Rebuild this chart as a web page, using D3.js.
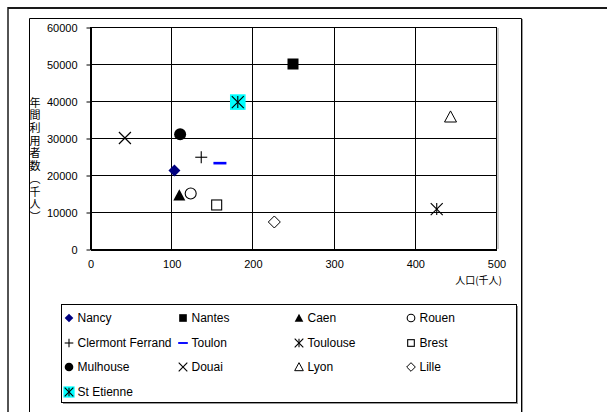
<!DOCTYPE html>
<html>
<head>
<meta charset="utf-8">
<script src="https://cdn.jsdelivr.net/npm/d3@7"></script>
<style>
  html, body { margin: 0; padding: 0; background: #fff; }
  svg { display: block; }
  text { font-family: "Liberation Sans", Arial, "Noto Sans CJK JP", sans-serif; fill: #000; }
  .jp { font-family: "Noto Sans CJK JP", sans-serif; }
  .vertical { writing-mode: vertical-rl; text-orientation: upright; }
</style>
</head>
<body>
<svg id="chart" width="607" height="412"></svg>
<script>
// Cities, their population (thousands) and annual ridership (thousands)
const cities     = ["Nancy", "Nantes", "Caen", "Rouen", "Clermont Ferrand", "Toulon", "Toulouse", "Brest", "Mulhouse", "Douai", "Lyon", "Lille", "St Etienne"];
const population = [104, 250, 110, 124, 137, 160, 427, 156, 111, 43, 444, 227, 182];
const riders     = [21200, 50000, 14500, 15000, 24800, 23200, 10800, 11900, 31000, 30000, 35700, 7300, 39700];

// Marker style for each city, in the same order
const markers = ["diamondFill", "squareFill", "triangleFill", "circleOpen", "plus", "dash", "asterisk", "squareOpen", "circleFill", "times", "triangleOpen", "diamondOpen", "asteriskCyan"];

const xTicks = [0, 100, 200, 300, 400, 500];
const yTicks = [0, 10000, 20000, 30000, 40000, 50000, 60000];
const yTitle = "年間利用者数（千人）";
const xTitle = "人口(千人)";

const svg = d3.select("#chart");

// Outer frames
svg.append("line").attr("x1", 8).attr("x2", 607).attr("y1", 8).attr("y2", 8)
  .attr("stroke", "#1a1a1a").attr("stroke-width", 2);
svg.append("line").attr("x1", 8).attr("x2", 8).attr("y1", 7).attr("y2", 412)
  .attr("stroke", "#1a1a1a").attr("stroke-width", 1.5);

// Chart area border (shadow on right)
svg.append("line").attr("x1", 522.5).attr("x2", 522.5).attr("y1", 19).attr("y2", 412)
  .attr("stroke", "#999").attr("stroke-width", 1);
svg.append("path").attr("d", "M29.5,412 V18.5 H521.5 V412")
  .attr("fill", "none").attr("stroke", "#000").attr("stroke-width", 1);

const plot = { left: 90, right: 496, top: 27, bottom: 249 };
const x = d3.scaleLinear().domain([0, 500]).range([plot.left, plot.right]);
const y = d3.scaleLinear().domain([0, 60000]).range([plot.bottom, plot.top]);

// Gridlines
const grid = svg.append("g").attr("stroke", "#000").attr("stroke-width", 1);
grid.selectAll("line.h").data(yTicks.slice(1)).join("line").attr("class", "h")
  .attr("x1", plot.left).attr("x2", plot.right)
  .attr("y1", d => Math.round(y(d)) + 0.5).attr("y2", d => Math.round(y(d)) + 0.5);
grid.selectAll("line.v").data(xTicks.slice(1)).join("line").attr("class", "v")
  .attr("y1", plot.top).attr("y2", plot.bottom)
  .attr("x1", d => Math.round(x(d)) + 0.5).attr("x2", d => Math.round(x(d)) + 0.5);
// Plot area shadow on the right
svg.append("line").attr("x1", plot.right + 2).attr("x2", plot.right + 2)
  .attr("y1", plot.top + 1).attr("y2", plot.bottom).attr("stroke", "#999");

// Axes
const yAxis = d3.axisLeft(y).tickValues(yTicks).tickFormat(d3.format("d"))
  .tickSize(4).tickSizeOuter(0).tickPadding(9);
const xAxis = d3.axisBottom(x).tickValues(xTicks).tickFormat(d3.format("d"))
  .tickSize(0).tickSizeOuter(0).tickPadding(11);
const gy = svg.append("g").attr("transform", `translate(${plot.left + 0.5},0.5)`).call(yAxis);
const gx = svg.append("g").attr("transform", `translate(0.5,${plot.bottom + 0.5})`).call(xAxis);
[gy, gx].forEach(g => {
  g.select(".domain").attr("stroke", "#000").attr("stroke-width", 2);
  g.selectAll(".tick line").attr("stroke", "#000");
  g.selectAll(".tick text").attr("font-size", 11).attr("font-family", "Liberation Sans, Arial, sans-serif").attr("fill", "#000");
});

// Axis titles
svg.append("text").attr("class", "jp vertical").attr("x", 35).attr("y", 97)
  .attr("font-size", 11).attr("letter-spacing", 1.7).text(yTitle);
svg.append("text").attr("class", "jp").attr("x", 502).attr("y", 284)
  .attr("text-anchor", "end").attr("font-size", 10).text(xTitle);

// Marker drawing
function drawMarker(g, type, k) {
  const s = 6 * k;
  const line = (x1, y1, x2, y2, c, w) => g.append("line").attr("x1", x1).attr("y1", y1).attr("x2", x2).attr("y2", y2)
    .attr("stroke", c || "#000").attr("stroke-width", w || 1.1);
  switch (type) {
    case "diamondFill":
      g.append("path").attr("d", `M0,${-s}L${s},0L0,${s}L${-s},0Z`).attr("fill", "#000080"); break;
    case "diamondOpen":
      g.append("path").attr("d", `M0,${-s}L${s},0L0,${s}L${-s},0Z`).attr("fill", "#fff").attr("stroke", "#000").attr("stroke-width", 1); break;
    case "squareFill":
      g.append("rect").attr("x", -s + 0.5).attr("y", -s + 0.5).attr("width", 2 * s - 1).attr("height", 2 * s - 1).attr("fill", "#000"); break;
    case "squareOpen":
      g.append("rect").attr("x", -s + 1).attr("y", -s + 1).attr("width", 2 * s - 2).attr("height", 2 * s - 2).attr("fill", "#fff").attr("stroke", "#000").attr("stroke-width", 1.1); break;
    case "triangleFill":
      g.append("path").attr("d", `M0,${-s}L${s},${s * 0.85}L${-s},${s * 0.85}Z`).attr("fill", "#000"); break;
    case "triangleOpen":
      g.append("path").attr("d", `M0,${-s}L${s},${s * 0.85}L${-s},${s * 0.85}Z`).attr("fill", "#fff").attr("stroke", "#000").attr("stroke-width", 1); break;
    case "circleFill":
      g.append("circle").attr("r", s).attr("fill", "#000"); break;
    case "circleOpen":
      g.append("circle").attr("r", s - 0.5).attr("fill", "#fff").attr("stroke", "#000").attr("stroke-width", 1.1); break;
    case "plus":
      line(-s, 0, s, 0); line(0, -s, 0, s); break;
    case "times":
      line(-s, -s, s, s); line(-s, s, s, -s); break;
    case "dash":
      g.append("rect").attr("x", -s - 0.5).attr("y", -1.3 * k).attr("width", 2 * s + 1).attr("height", 2.6 * k).attr("fill", "#0000ff"); break;
    case "asterisk":
      line(-s, -s, s, s); line(-s, s, s, -s); line(0, -s, 0, s); break;
    case "asteriskCyan": {
      const c = s * 1.3;
      g.append("rect").attr("x", -c).attr("y", -c).attr("width", 2 * c).attr("height", 2 * c).attr("fill", "#00ffff");
      line(-s, -s, s, s); line(-s, s, s, -s); line(0, -s, 0, s); break;
    }
  }
}

// Data points
const pts = svg.append("g");
cities.forEach((c, i) => {
  const g = pts.append("g").attr("transform", `translate(${x(population[i])},${y(riders[i])})`);
  drawMarker(g, markers[i], 1);
});

// Legend
const lg = svg.append("g");
lg.append("rect").attr("x", 63).attr("y", 306).attr("width", 455).attr("height", 98).attr("fill", "#999");
lg.append("rect").attr("x", 61.5).attr("y", 304.5).attr("width", 455).attr("height", 98)
  .attr("fill", "#fff").attr("stroke", "#000").attr("stroke-width", 1);
const colMark = [69, 183, 299, 411];
const rowY = [318, 343, 367, 392];
cities.forEach((c, i) => {
  const col = i % 4, row = Math.floor(i / 4);
  const g = lg.append("g").attr("transform", `translate(${colMark[col]},${rowY[row]})`);
  drawMarker(g, markers[i], 0.72);
  lg.append("text").attr("x", colMark[col] + 8.5).attr("y", rowY[row] + 4.3)
    .attr("font-size", 12).text(c);
});
</script>
</body>
</html>
